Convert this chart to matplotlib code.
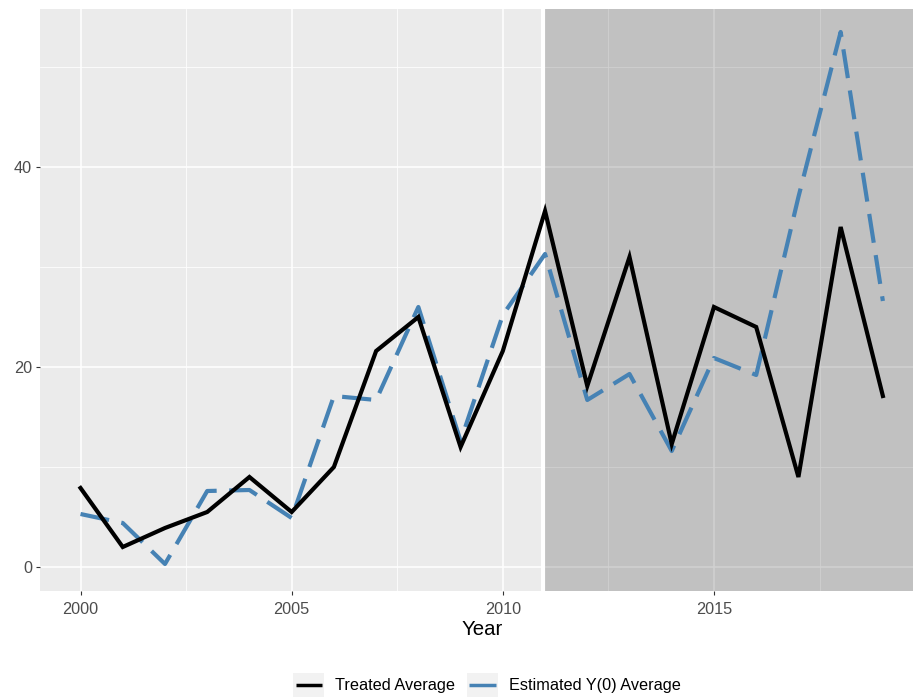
import matplotlib
matplotlib.use("Agg")
import matplotlib.pyplot as plt
from matplotlib.legend_handler import HandlerBase
from matplotlib.patches import Rectangle
from matplotlib.lines import Line2D
from matplotlib.ticker import MultipleLocator

plt.rcParams['font.family'] = ['Liberation Sans', 'DejaVu Sans']

years = [2000, 2001, 2002, 2003, 2004, 2005, 2006, 2007, 2008, 2009,
         2010, 2011, 2012, 2013, 2014, 2015, 2016, 2017, 2018, 2019]
treated = [7.9, 2.0, 3.9, 5.5, 9.0, 5.5, 10.0, 21.6, 25.0, 12.0,
           21.6, 35.6, 18.1, 31.0, 12.3, 26.0, 24.0, 9.0, 34.0, 17.1]
estimated = [5.3, 4.4, 0.3, 7.6, 7.7, 4.9, 17.1, 16.7, 26.0, 12.6,
             25.2, 31.3, 16.7, 19.3, 11.6, 20.9, 19.2, 37.0, 53.5, 26.6]
series_labels = ["Treated Average", "Estimated Y(0) Average"]
treat_start = 2011
vline_x = 2010.95

W, H = 913, 698
fig = plt.figure(figsize=(W / 100, H / 100), dpi=100)
left_px, right_px, top_px, bottom_px = 40.4, 923, 9, 590.5
ax = fig.add_axes([left_px / W, 1 - bottom_px / H,
                   (right_px - left_px) / W, (bottom_px - top_px) / H])

ax.set_facecolor('#EBEBEB')
ax.set_xlim(1999.05, 2019.95)
ax.set_ylim(-2.35, 55.8)
ax.xaxis.set_major_locator(MultipleLocator(5))
ax.xaxis.set_minor_locator(MultipleLocator(2.5))
ax.yaxis.set_major_locator(MultipleLocator(20))
ax.yaxis.set_minor_locator(MultipleLocator(10))
ax.set_axisbelow(True)
ax.grid(which='major', color='white', lw=1.1)
ax.grid(which='minor', color='white', lw=0.55)
for s in ax.spines.values():
    s.set_visible(False)
ax.tick_params(which='major', length=2.9, width=0.8, color='#333333',
               labelcolor='#4D4D4D', labelsize=11.7)
ax.tick_params(axis='x', which='major', pad=5.5)
ax.tick_params(axis='y', which='major', pad=3)
ax.tick_params(which='minor', length=0)

ax.axvspan(treat_start, 2025, facecolor='black', alpha=0.175, lw=0, zorder=1)
ax.axvline(vline_x, color='white', lw=3.0, zorder=1.5)

l1, = ax.plot(years, treated, color='black', lw=3.0, zorder=3,
              solid_joinstyle='miter', label=series_labels[0])
l2, = ax.plot(years, estimated, color='#4682B4', lw=3.0, zorder=2.5,
              dashes=(7, 3), label=series_labels[1])

ax.set_xlabel('Year', fontsize=14.7, color='black', labelpad=2)


class KeyHandler(HandlerBase):
    def create_artists(self, legend, orig_handle, xdescent, ydescent,
                       width, height, fontsize, trans):
        rect = Rectangle((-xdescent, -ydescent), width, height,
                         facecolor='#F2F2F2', edgecolor='none', transform=trans)
        y = -ydescent + height / 2
        line = Line2D([-xdescent + 0.07 * width, -xdescent + 0.93 * width], [y, y],
                      color=orig_handle.get_color(), lw=2.5,
                      solid_capstyle='butt', transform=trans)
        return [rect, line]


fig.legend([l1, l2], series_labels, loc='center', ncol=2,
           bbox_to_anchor=(486.9 / W, 1 - 685 / H), frameon=False,
           fontsize=11.7, handlelength=1.91, handleheight=1.9,
           handletextpad=0.65, columnspacing=0.74, borderpad=0,
           handler_map={Line2D: KeyHandler()})

fig.savefig('out.png', dpi=100)
